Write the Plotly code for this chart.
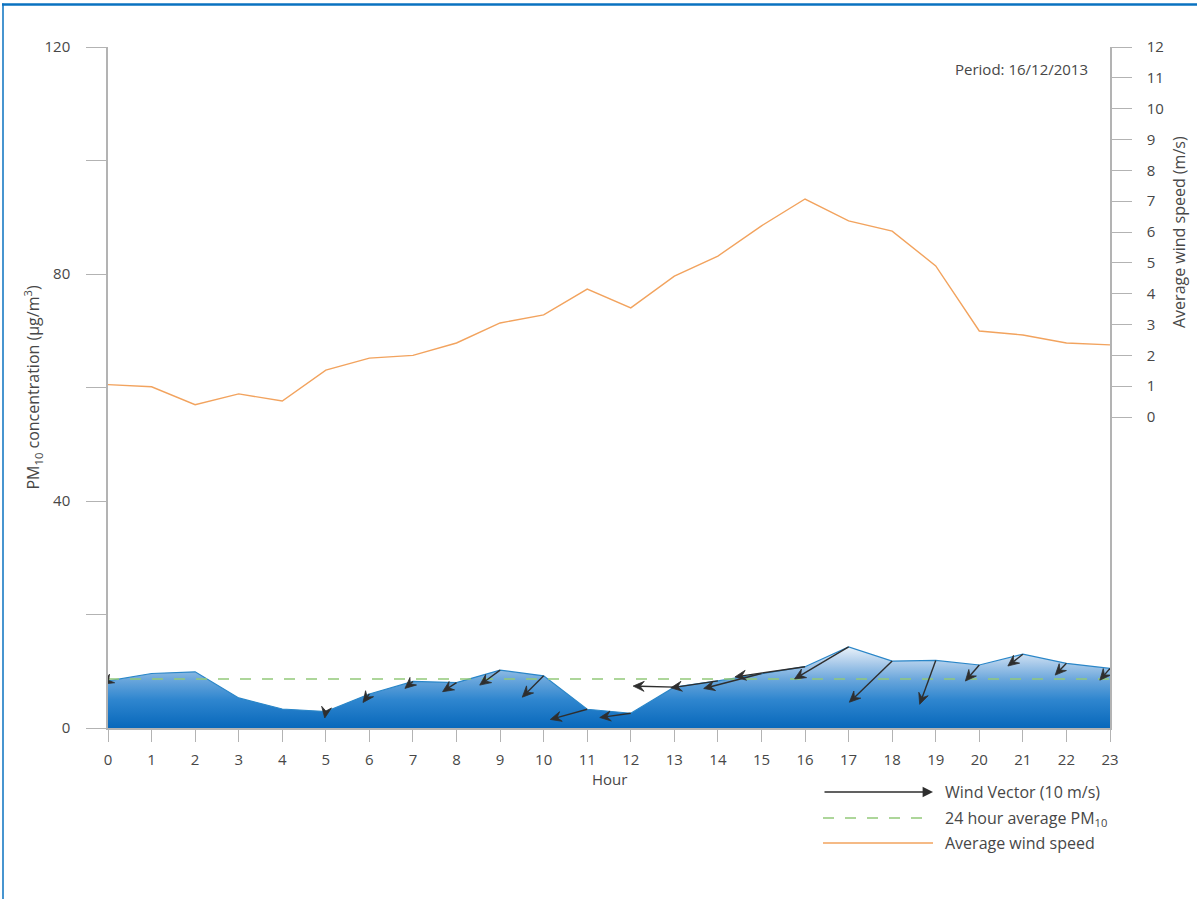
import math
import plotly.graph_objects as go

# Hourly observations, 16/12/2013
hours = list(range(24))
pm10 = [8.3, 9.6, 9.9, 5.3, 3.35, 2.9, 6.0, 8.2, 8.0, 10.2, 9.2, 3.3,
        2.6, 7.2, 8.3, 9.6, 10.8, 14.3, 11.8, 11.9, 11.1, 13.0, 11.4, 10.5]
wind_speed = [1.05, 0.98, 0.40, 0.75, 0.52, 1.52, 1.91, 2.00, 2.40, 3.05, 3.31, 4.15,
              3.54, 4.57, 5.22, 6.20, 7.07, 6.36, 6.03, 4.90, 2.79, 2.66, 2.40, 2.34]
# wind vector components (m/s, east / north); None = no vector recorded
wind_u = [-0.5, None, None, None, None, -0.1, -0.6, -0.75, -1.3, -1.9, -2.0, -3.45,
          -2.9, -3.85, -4.4, -5.4, -6.55, -5.05, -4.0, -1.5, -1.3, -1.4, -1.05, -0.95]
wind_v = [-0.3, None, None, None, None, -0.6, -0.8, -0.65, -0.85, -1.4, -2.0, -0.95,
          -0.4, 0.1, -0.65, -1.4, -0.95, -3.0, -3.85, -4.1, -1.5, -1.1, -1.1, -1.1]

pm_ticks = [0, 20, 40, 60, 80, 100, 120]
pm_ticktext = ["0", "", "40", "", "80", "", "120"]
ws_ticks = list(range(13))

pm_avg = sum(pm10) / len(pm10)

FONT = "Open Sans, Lato, sans-serif"
TXT = "#474747"
AXIS = "#b3b3b3"
ORANGE = "#f2a35e"
GREEN = "#93c97a"
ARROW = "#2e2e2e"

# plot-area geometry (pixels)
L, R, T, B = 108, 1110, 47, 728
W, H = 1197, 899
X_MAX, Y_MAX = 23, 120
XPX = (R - L) / X_MAX        # pixels per hour
YPX = (B - T) / Y_MAX        # pixels per µg/m³
VEC_PX = 10.7                # pixels per m/s for the wind vectors
HEAD_LEN, HEAD_HALF, HEAD_NOTCH = 11.0, 5.0, 7.0

fig = go.Figure()

fig.add_trace(go.Scatter(
    x=hours, y=pm10, mode="lines", fill="tozeroy",
    line=dict(color="#2a86c8", width=1.2),
    fillgradient=dict(
        type="vertical", start=0, stop=max(pm10),
        colorscale=[[0, "#0868bb"], [0.35, "#2f86cf"], [0.6, "#6ba7dc"],
                    [0.8, "#abcbea"], [1, "#eaf2fa"]]),
    hoverinfo="skip", showlegend=False))

fig.add_trace(go.Scatter(
    x=[hours[0], hours[-1]], y=[pm_avg, pm_avg], mode="lines",
    line=dict(color=GREEN, width=1.5, dash="11px,11px"),
    showlegend=False))

fig.add_trace(go.Scatter(
    x=hours, y=wind_speed, mode="lines", yaxis="y2",
    line=dict(color=ORANGE, width=1.4), showlegend=False))

# wind vectors: tail on the PM10 curve, length/direction from (u, v);
# geometry is laid out in screen pixels then mapped back to data units
shaft_x, shaft_y = [], []
head_x, head_y = [], []
for h, p, u, v in zip(hours, pm10, wind_u, wind_v):
    if u is None:
        continue
    dxp, dyp = u * VEC_PX, -v * VEC_PX          # screen pixels, y downward
    n = math.hypot(dxp, dyp)
    ux, uy = dxp / n, dyp / n                   # unit direction
    nx, ny = -uy, ux                            # perpendicular

    def to_data(sx, sy):
        return h + sx / XPX, p - sy / YPX

    notch = min(HEAD_NOTCH, n)
    sx0, sy0 = to_data(0, 0)
    sx1, sy1 = to_data(dxp - ux * notch, dyp - uy * notch)
    if n > notch:
        shaft_x += [sx0, sx1, None]
        shaft_y += [sy0, sy1, None]
    pts = [
        (dxp, dyp),
        (dxp - ux * HEAD_LEN + nx * HEAD_HALF, dyp - uy * HEAD_LEN + ny * HEAD_HALF),
        (dxp - ux * HEAD_NOTCH, dyp - uy * HEAD_NOTCH),
        (dxp - ux * HEAD_LEN - nx * HEAD_HALF, dyp - uy * HEAD_LEN - ny * HEAD_HALF),
        (dxp, dyp),
    ]
    for sx, sy in pts:
        dx_, dy_ = to_data(sx, sy)
        head_x.append(dx_)
        head_y.append(dy_)
    head_x.append(None)
    head_y.append(None)

fig.add_trace(go.Scatter(
    x=shaft_x, y=shaft_y, mode="lines",
    line=dict(color=ARROW, width=1.4), hoverinfo="skip", showlegend=False))
fig.add_trace(go.Scatter(
    x=head_x, y=head_y, mode="lines", fill="toself", fillcolor=ARROW,
    line=dict(color=ARROW, width=0.8), hoverinfo="skip", showlegend=False))


def px(x):
    return (x - L) / (R - L)


def py(y):
    return (B - y) / (B - T)


def label(x, y, text, size, **kw):
    d = dict(x=px(x), y=py(y), xref="paper", yref="paper", text=text,
             showarrow=False, xanchor="center", yanchor="middle",
             font=dict(size=size, color=TXT, family=FONT))
    d.update(kw)
    return d


# axis titles and notes
annotations = [
    label(33, 387.5, "PM<sub>10</sub> concentration (µg/m<sup>3</sup>)", 16,
          textangle=-90),
    label(1179, 232, "Average wind speed (m/s)", 16, textangle=-90),
    label(609, 779, "Hour", 15),
    label(1090, 69, "Period: 16/12/2013", 15, xanchor="right"),
]

# legend
leg_x0, leg_x1, leg_tx = 823, 933, 943
leg_rows = [792, 818, 843]
annotations.append(dict(
    x=px(leg_x1), y=py(leg_rows[0]), xref="paper", yref="paper", text="",
    showarrow=True, ax=-(leg_x1 - leg_x0), ay=0, arrowhead=2, arrowsize=1.6,
    arrowwidth=1.3, arrowcolor=ARROW, standoff=0))
for row, text in zip(leg_rows, ["Wind Vector (10 m/s)",
                                "24 hour average PM<sub>10</sub>",
                                "Average wind speed"]):
    annotations.append(label(leg_tx, row, text, 16, xanchor="left"))

shapes = [
    dict(type="line", xref="paper", yref="paper", x0=px(leg_x0), x1=px(leg_x1),
         y0=py(leg_rows[1]), y1=py(leg_rows[1]),
         line=dict(color=GREEN, width=1.5, dash="11px,11px")),
    dict(type="line", xref="paper", yref="paper", x0=px(leg_x0), x1=px(leg_x1),
         y0=py(leg_rows[2]), y1=py(leg_rows[2]),
         line=dict(color=ORANGE, width=1.5)),
    # outer frame
    dict(type="line", xref="paper", yref="paper", x0=px(2), x1=px(W + 5),
         y0=py(4.5), y1=py(4.5), line=dict(color="#0a72c0", width=2.5)),
    dict(type="line", xref="paper", yref="paper", x0=px(3), x1=px(3),
         y0=py(3.5), y1=py(H + 5), line=dict(color="#0a72c0", width=1.5)),
]

tickfont = dict(size=15, color=TXT, family=FONT)
ws_zero_px, ws_top_px = 417, 47
ws_unit = (ws_zero_px - ws_top_px) / 12
ws_min = -(B - ws_zero_px) / ws_unit

fig.update_layout(
    width=W, height=H,
    margin=dict(l=L, r=W - R, t=T, b=H - B, autoexpand=False),
    paper_bgcolor="white", plot_bgcolor="white",
    showlegend=False,
    xaxis=dict(range=[0, X_MAX], tickvals=hours, showgrid=False, zeroline=False,
               showline=True, linecolor=AXIS, linewidth=1.5, ticks="outside",
               ticklen=12, tickcolor=AXIS, tickwidth=1.2, tickfont=tickfont,
               ticklabelstandoff=5),
    yaxis=dict(range=[0, Y_MAX], tickvals=pm_ticks, ticktext=pm_ticktext,
               showgrid=False, zeroline=False, showline=True, linecolor=AXIS,
               linewidth=1.5, ticks="outside", ticklen=20, tickcolor=AXIS,
               tickwidth=1.2, tickfont=tickfont, ticklabelstandoff=13),
    yaxis2=dict(range=[ws_min, 12], tickvals=ws_ticks, overlaying="y",
                side="right", showgrid=False, zeroline=False, showline=True,
                linecolor=AXIS, linewidth=1.5, ticks="outside", ticklen=20,
                tickcolor=AXIS, tickwidth=1.2, tickfont=tickfont,
                ticklabelstandoff=12),
    annotations=annotations,
    shapes=shapes,
)

fig.write_html("out.html")
